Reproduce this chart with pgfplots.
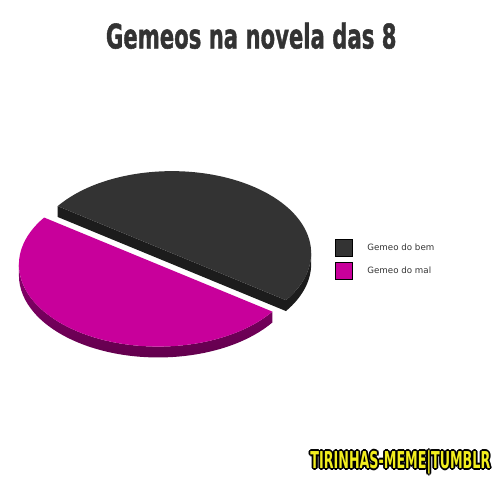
\documentclass[border=0pt]{standalone}
\usepackage{pgfplots}
\usepackage{pgfplotstable}
\usepackage{graphicx}
\usepackage{fontspec}
\setmainfont{DejaVu Sans}
\newfontfamily\titlefont{DejaVu Sans}[BoldFeatures={FakeBold=1.6}]
\pgfplotsset{compat=1.18}
\definecolor{darkslice}{HTML}{333333}
\definecolor{darkside}{HTML}{1C1C1C}
\definecolor{pinkslice}{HTML}{C8009B}
\definecolor{pinksideA}{HTML}{8A006E}
\definecolor{pinksideB}{HTML}{5E0049}
\definecolor{titlegray}{HTML}{333333}
\definecolor{wmyellow}{HTML}{F2EE1E}
\pgfplotstableread{
label value
bem 50
mal 50
}\piedata
\newcommand{\wmtext}[1]{\resizebox{182pt}{18pt}{\bfseries #1}}
\begin{document}
\begin{tikzpicture}
\pgfplotstablegetelem{0}{value}\of\piedata \pgfmathsetmacro\va{\pgfplotsretval}
\pgfplotstablegetelem{1}{value}\of\piedata \pgfmathsetmacro\vb{\pgfplotsretval}
\pgfmathsetmacro\astart{-35}
\pgfmathsetmacro\fr{\va/(\va+\vb)}
\pgfmathsetmacro\amid{\astart+360*\fr}
\pgfmathsetmacro\aend{\astart+360}
\def\rx{141}\def\ry{83}\def\dep{11}
\def\cx{161}\def\cy{227}\def\k{0.085}
% explode offsets
\pgfmathsetmacro\mdark{(\astart+\amid)/2}
\pgfmathsetmacro\mpink{(\amid+\aend)/2}
\pgfmathsetmacro\Dx{\cx+\k*\rx*cos(\mdark)}
\pgfmathsetmacro\Dy{\cy+\k*\ry*sin(\mdark)}
\pgfmathsetmacro\Px{\cx+\k*\rx*cos(\mpink)}
\pgfmathsetmacro\Py{\cy+\k*\ry*sin(\mpink)}
% points
\pgfmathsetmacro\Aax{\Dx+\rx*cos(\astart)}\pgfmathsetmacro\Aay{\Dy+\ry*sin(\astart)}
\pgfmathsetmacro\Abx{\Dx+\rx*cos(\amid)}\pgfmathsetmacro\Aby{\Dy+\ry*sin(\amid)}
\pgfmathsetmacro\Aaz{\Aay-\dep}\pgfmathsetmacro\Abz{\Aby-\dep}
\pgfmathsetmacro\Dzx{\Dx+\rx}\pgfmathsetmacro\Dzy{\Dy-\dep}
\pgfmathsetmacro\Bax{\Px+\rx*cos(\amid)}\pgfmathsetmacro\Bay{\Py+\ry*sin(\amid)}
\pgfmathsetmacro\Bbx{\Px+\rx*cos(\aend)}\pgfmathsetmacro\Bby{\Py+\ry*sin(\aend)}
\pgfmathsetmacro\Bbz{\Bby-\dep}
\pgfmathsetmacro\Plx{\Px-\rx}
\begin{axis}[
  scale only axis, width=499pt, height=489pt,
  xmin=0, xmax=499, ymin=0, ymax=489,
  hide axis, clip=false,
  legend style={draw=none, fill=none, at={(axis cs:333,247.5)}, anchor=north west,
    inner sep=0pt, row sep=6pt, column sep=13pt,
    font=\fontsize{8.8}{10}\selectfont\color{titlegray},
    cells={anchor=west}},
  legend image code/.code={\draw[#1,draw=black,line width=0.6pt] (0pt,-8.5pt) rectangle (17pt,8.5pt);},
]
\path (axis cs:0,0) rectangle (axis cs:499,489);
% pink side (visible arc 180..aend)
\shade[top color=pinksideA, bottom color=pinksideB]
  (axis cs:\Plx,\Py) arc[start angle=180, end angle=\aend, x radius=\rx pt, y radius=\ry pt]
  -- (axis cs:\Bbx,\Bbz) arc[start angle=\aend, end angle=180, x radius=\rx pt, y radius=\ry pt] -- cycle;
% pink top
\fill[pinkslice] (axis cs:\Px,\Py) -- (axis cs:\Bax,\Bay)
  arc[start angle=\amid, end angle=\aend, x radius=\rx pt, y radius=\ry pt] -- cycle;
% dark chord side
\fill[darkside] (axis cs:\Abx,\Aby) -- (axis cs:\Aax,\Aay) -- (axis cs:\Aax,\Aaz) -- (axis cs:\Abx,\Abz) -- cycle;
% dark arc side (astart..360)
\fill[darkside] (axis cs:\Aax,\Aay) arc[start angle=\astart, end angle=0, x radius=\rx pt, y radius=\ry pt]
  -- (axis cs:\Dzx,\Dzy) arc[start angle=0, end angle=\astart, x radius=\rx pt, y radius=\ry pt] -- cycle;
% dark top
\fill[darkslice] (axis cs:\Dx,\Dy) -- (axis cs:\Aax,\Aay)
  arc[start angle=\astart, end angle=\amid, x radius=\rx pt, y radius=\ry pt] -- cycle;
\addlegendimage{fill=darkslice}
\addlegendentry{Gemeo do bem}
\addlegendimage{fill=pinkslice}
\addlegendentry{Gemeo do mal}
\coordinate (title) at (axis cs:101,440);
\coordinate (wm) at (axis cs:308,15);
\end{axis}
% title
\node[anchor=base west, inner sep=0pt, text=titlegray] at (title)
  {\resizebox{294pt}{26pt}{\titlefont\bfseries Gemeos na novela das 8}};
% watermark: black outline copies then yellow fill
\foreach \ox/\oy in {-1.8/0,1.8/0,0/-1.8,0/1.8,-1.3/-1.3,1.3/1.3,-1.3/1.3,1.3/-1.3}{
  \node[anchor=base west, inner sep=0pt, text=black] at ([xshift=\ox pt,yshift=\oy pt]wm) {\wmtext{TIRINHAS-MEME|TUMBLR}};
}
\node[anchor=base west, inner sep=0pt, text=wmyellow] at (wm) {\wmtext{TIRINHAS-MEME|TUMBLR}};
\end{tikzpicture}
\end{document}
